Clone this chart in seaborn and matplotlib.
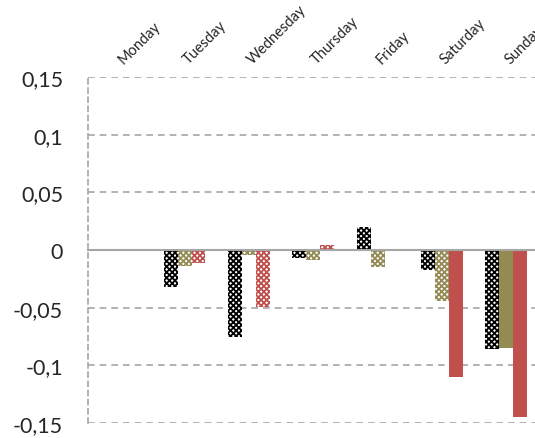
import pandas as pd
import matplotlib
matplotlib.use("Agg")
import matplotlib.pyplot as plt
import seaborn as sns

# valores
days = ["Monday", "Tuesday", "Wednesday", "Thursday", "Friday", "Saturday", "Sunday"]
series1 = [0.0, -0.032, -0.075, -0.007, 0.020, -0.017, -0.086]
series2 = [0.0, -0.014, -0.004, -0.009, -0.015, -0.044, -0.085]
series3 = [0.0, -0.011, -0.049, 0.004, -0.001, -0.110, -0.145]
# barras significativas (rellenas)
signif1 = [False, False, False, False, False, False, False]
signif2 = [False, False, False, False, False, False, True]
signif3 = [False, False, False, False, False, True, True]
yticks = [-0.15, -0.1, -0.05, 0, 0.05, 0.1, 0.15]

df = pd.DataFrame({
    "day": days * 3,
    "value": series1 + series2 + series3,
    "serie": ["s1"] * 7 + ["s2"] * 7 + ["s3"] * 7,
})
colors = ["#000000", "#948A54", "#C0504D"]
signif = [signif1, signif2, signif3]

sns.set_style("white")
plt.rcParams["font.family"] = ["Lato", "DejaVu Sans"]
plt.rcParams["hatch.linewidth"] = 1.3

fig = plt.figure(figsize=(5.35, 4.39), dpi=100)
ax = fig.add_axes([0.1645, 0.034, 0.842, 0.788])

sns.barplot(data=df, x="day", y="value", hue="serie", palette=colors,
            width=0.65, legend=False, ax=ax, zorder=3)

for k, cont in enumerate(ax.containers):
    for j, bar in enumerate(cont):
        if signif[k][j]:
            bar.set_facecolor(colors[k])
            bar.set_linewidth(0)
        else:
            bar.set_facecolor("white")
            bar.set_edgecolor(colors[k])
            bar.set_hatch("xxxxxx")
            bar.set_linewidth(0)

ax.set_xlim(-0.5, 6.5)
ax.set_ylim(-0.15, 0.15)
ax.set_yticks(yticks)
ax.set_yticklabels([("%g" % t).replace(".", ",") for t in yticks], fontsize=15.5)
ax.set_xlabel("")
ax.set_ylabel("")

grey = "#A6A6A6"
ax.yaxis.grid(True, color=grey, linestyle=(0, (4, 3)), linewidth=1.2, zorder=0)
ax.set_axisbelow(True)
for s in ["top", "right"]:
    ax.spines[s].set_visible(False)
ax.spines["left"].set_color(grey)
ax.spines["left"].set_linestyle((0, (3, 2.5)))
ax.spines["left"].set_linewidth(1.2)
ax.spines["bottom"].set_position(("data", 0))
ax.spines["bottom"].set_color(grey)
ax.spines["bottom"].set_linewidth(1.5)
ax.spines["bottom"].set_zorder(4)

ax.set_xticks([i - 0.5 for i in range(8)])
ax.set_xticklabels([])
ax.tick_params(axis="x", direction="out", length=5, color=grey, width=1.2)
ax.tick_params(axis="y", direction="inout", length=8, color=grey, width=1, pad=14)

# etiquetas de los dias arriba, giradas
top = ax.secondary_xaxis("top")
top.set_xticks([i + 0.09 for i in range(7)])
top.set_xticklabels(days, rotation=45, ha="left", va="bottom",
                    rotation_mode="anchor", fontsize=10.5)
top.tick_params(length=0, pad=8)
top.spines["top"].set_visible(False)

plt.savefig("out.png", dpi=100)
